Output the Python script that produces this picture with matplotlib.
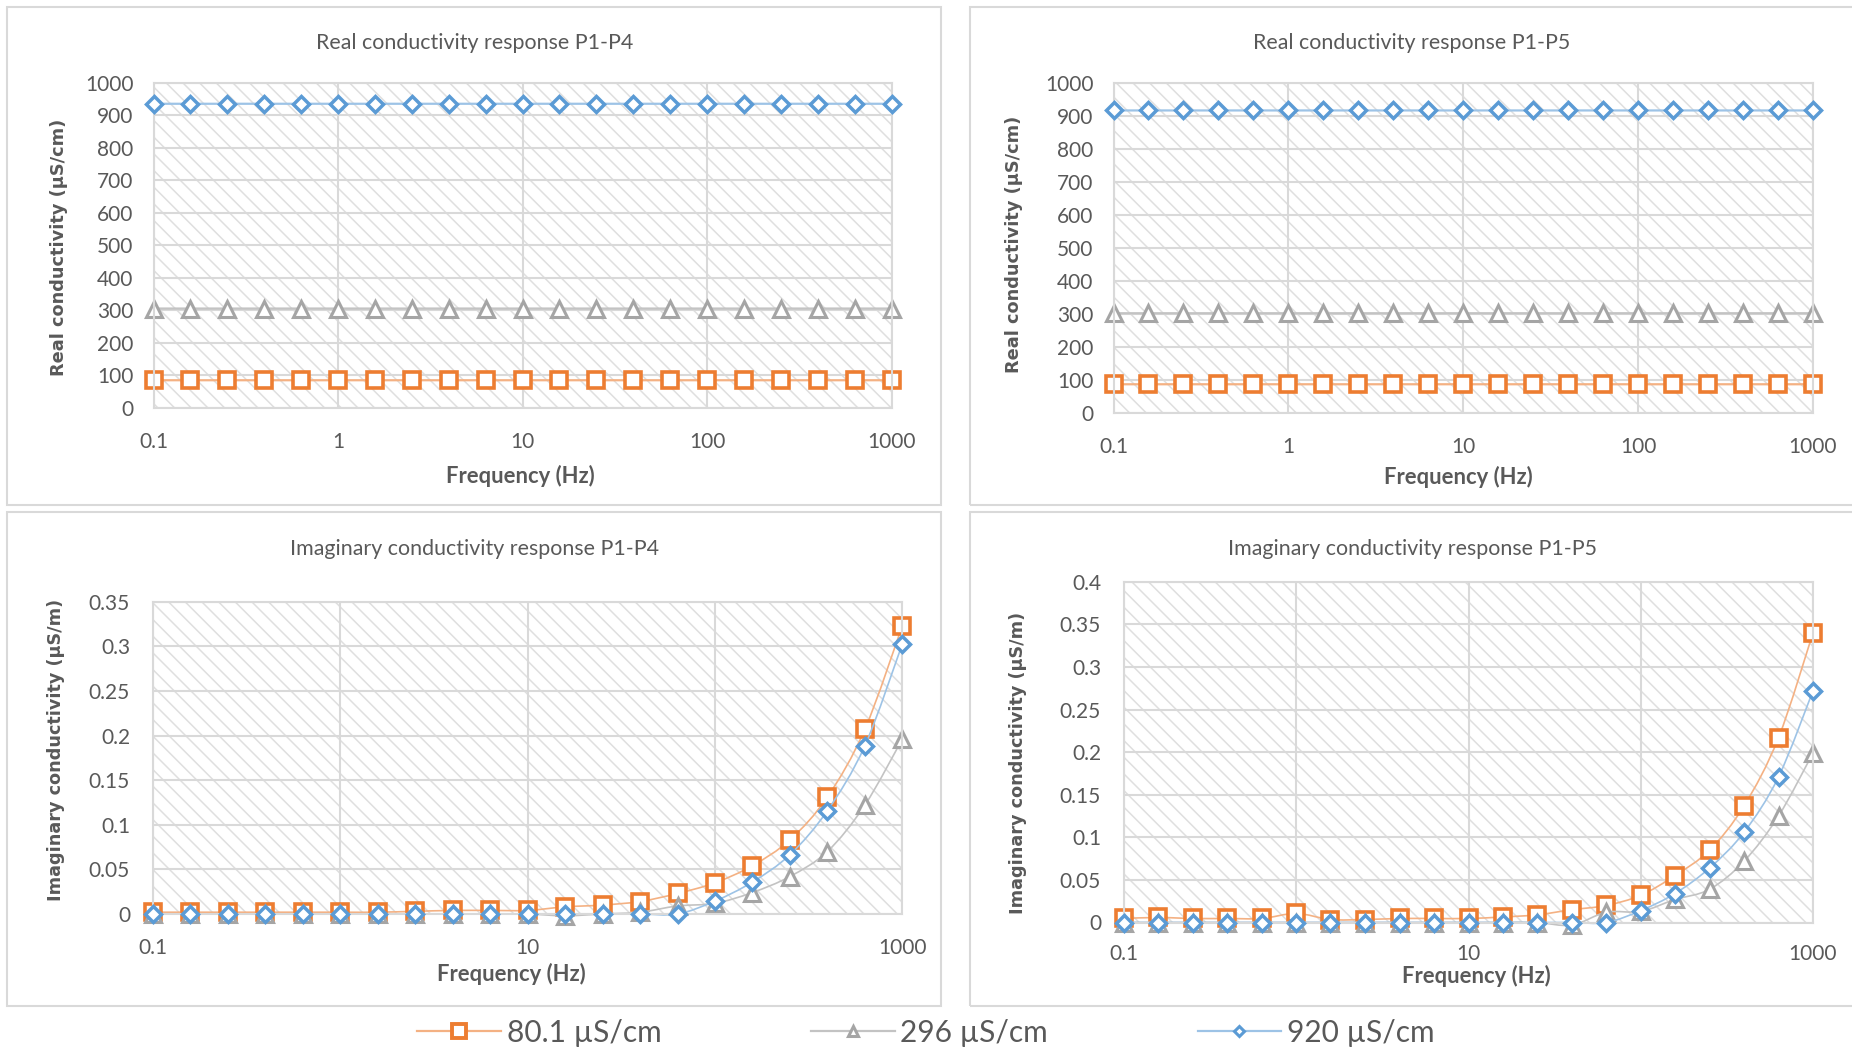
import numpy as np
import matplotlib
matplotlib.use("Agg")
import matplotlib.pyplot as plt
from matplotlib.path import Path
from matplotlib.patches import PathPatch, Rectangle
from matplotlib.lines import Line2D
from matplotlib.ticker import FixedLocator, FixedFormatter, NullLocator

# ---------------------------------------------------------------- data
freq_hz = [0.1, 0.158, 0.251, 0.398, 0.631, 1, 1.58, 2.51, 3.98, 6.31,
           10, 15.8, 25.1, 39.8, 63.1, 100, 158, 251, 398, 631, 1000]

series_labels = ["80.1 µS/cm", "296 µS/cm", "920 µS/cm"]

# Real conductivity (µS/cm), electrodes P1-P4
real_p14_80 = [84, 84, 84, 84, 84, 84, 84, 84, 84, 84, 84,
               84, 84, 84, 84, 84, 84, 84, 84, 84, 84]
real_p14_296 = [305, 305, 305, 305, 305, 305, 305, 305, 305, 305, 305,
                305, 305, 305, 305, 305, 305, 305, 305, 305, 305]
real_p14_920 = [936, 936, 936, 936, 936, 936, 936, 936, 936, 936, 936,
                936, 936, 936, 936, 936, 936, 936, 936, 936, 936]

# Real conductivity (µS/cm), electrodes P1-P5
real_p15_80 = [87, 87, 87, 87, 87, 87, 87, 87, 87, 87, 87,
               87, 87, 87, 87, 87, 87, 87, 87, 87, 87]
real_p15_296 = [302, 302, 302, 302, 302, 302, 302, 302, 302, 302, 302,
                302, 302, 302, 302, 302, 302, 302, 302, 302, 302]
real_p15_920 = [916, 916, 916, 916, 916, 916, 916, 916, 916, 916, 916,
                916, 916, 916, 916, 916, 916, 916, 916, 916, 916]

# Imaginary conductivity (µS/m), electrodes P1-P4
imag_p14_80 = [0.002, 0.002, 0.002, 0.002, 0.002, 0.002, 0.002, 0.003,
               0.004, 0.004, 0.004, 0.008, 0.010, 0.014, 0.023, 0.035,
               0.054, 0.083, 0.131, 0.207, 0.323]
imag_p14_296 = [0.0, 0.0, 0.0, 0.0, 0.0, 0.0, 0.0, 0.0, 0.0, 0.0, 0.0,
                -0.002, 0.0, 0.002, 0.009, 0.012, 0.024, 0.042, 0.070,
                0.122, 0.196]
imag_p14_920 = [0.0, 0.0, 0.0, 0.0, 0.0, 0.0, 0.0, 0.0, 0.0, 0.0, 0.0,
                0.0, 0.0, 0.0, 0.0, 0.0145, 0.0357, 0.0664, 0.1158,
                0.1885, 0.3026]

# Imaginary conductivity (µS/m), electrodes P1-P5
imag_p15_80 = [0.0047, 0.0059, 0.0047, 0.0047, 0.0047, 0.0106, 0.0035,
               0.0035, 0.0047, 0.0047, 0.0047, 0.0065, 0.009, 0.015,
               0.020, 0.032, 0.055, 0.085, 0.137, 0.217, 0.340]
imag_p15_296 = [0.0, 0.0, 0.0, 0.0, 0.0, 0.0, 0.0, 0.0, 0.0, 0.0, 0.0,
                0.0, 0.0, -0.003, 0.012, 0.013, 0.027, 0.039, 0.072,
                0.125, 0.199]
imag_p15_920 = [0.0, 0.0, 0.0, 0.0, 0.0, 0.0, 0.0, 0.0, 0.0, 0.0, 0.0,
                0.0, 0.0, 0.0, 0.0, 0.014, 0.034, 0.064, 0.106, 0.171,
                0.272]

real_yticks = [0, 100, 200, 300, 400, 500, 600, 700, 800, 900, 1000]
imag_p14_yticks = [0, 0.05, 0.1, 0.15, 0.2, 0.25, 0.3, 0.35]
imag_p15_yticks = [0, 0.05, 0.1, 0.15, 0.2, 0.25, 0.3, 0.35, 0.4]
real_xticks = [0.1, 1, 10, 100, 1000]
imag_xticks = [0.1, 10, 1000]
decade_lines = [0.1, 1, 10, 100, 1000]

# ---------------------------------------------------------------- style
plt.rcParams['font.family'] = ['Lato', 'DejaVu Sans']
TXT = '#595959'
GRID = '#d9d9d9'
HATCH = '#dfdfdf'
plt.rcParams['hatch.linewidth'] = 1.1
plt.rcParams['hatch.color'] = HATCH

series_style = [
    dict(marker='s', ms=11, mew=2.6, mec='#ED7D31', line='#F4B183'),
    dict(marker='^', ms=11.5, mew=2.2, mec='#A5A5A5', line='#C3C3C3'),
    dict(marker='D', ms=8.3, mew=2.5, mec='#5B9BD5', line='#9DC3E6'),
]

W, H = 1852, 1054
fig = plt.figure(figsize=(W / 100, H / 100), dpi=100)
fig.patch.set_facecolor('white')


def px_axes(left, top, right, bottom):
    return fig.add_axes([left / W, 1 - bottom / H,
                         (right - left) / W, (bottom - top) / H])


def fig_text(x, y, s, **kw):
    fig.text(x / W, 1 - y / H, s, color=TXT, ha='center', va='center', **kw)


def smooth_path(x, y):
    """Bezier path through the points, smoothed in log-frequency space."""
    pts = np.column_stack([np.log10(x), np.asarray(y, float)])
    n = len(pts)
    verts = [pts[0]]
    codes = [Path.MOVETO]
    for i in range(n - 1):
        p0 = pts[max(i - 1, 0)]
        p1 = pts[i]
        p2 = pts[i + 1]
        p3 = pts[min(i + 2, n - 1)]
        verts += [p1 + (p2 - p0) / 6, p2 - (p3 - p1) / 6, p2]
        codes += [Path.CURVE4] * 3
    verts = np.array(verts)
    verts[:, 0] = 10 ** verts[:, 0]
    return Path(verts, codes)


def setup_axes(ax, ylim, yticks, xticks, xpad, ypad):
    ax.set_xscale('log')
    ax.set_xlim(0.1, 1000)
    ax.set_ylim(*ylim)
    ax.set_facecolor('white')
    ax.add_patch(Rectangle((0, 0), 1, 1, transform=ax.transAxes,
                           facecolor='white', edgecolor=HATCH, lw=0,
                           hatch='\\\\', zorder=0.2))
    ax.set_axisbelow(True)
    ax.xaxis.set_major_locator(FixedLocator(decade_lines))
    ax.xaxis.set_major_formatter(FixedFormatter(
        [f"{v:g}" if v in xticks else "" for v in decade_lines]))
    ax.xaxis.set_minor_locator(NullLocator())
    ax.yaxis.set_major_locator(FixedLocator(yticks))
    ax.yaxis.set_major_formatter(FixedFormatter([f"{v:g}" for v in yticks]))
    ax.grid(True, color=GRID, lw=1.5)
    ax.tick_params(length=0, labelsize=15, labelcolor=TXT)
    ax.tick_params(axis='x', pad=xpad)
    ax.tick_params(axis='y', pad=ypad)
    for sp in ax.spines.values():
        sp.set_color(GRID)
        sp.set_linewidth(1.5)


def draw_series(ax, ys, line_w):
    z = 2.0
    for y, st in zip(ys, series_style):
        ax.add_patch(PathPatch(smooth_path(freq_hz, y), fill=False,
                               edgecolor=st['line'], lw=line_w, zorder=z,
                               clip_on=False))
        ax.plot(freq_hz, y, ls='none', marker=st['marker'], ms=st['ms'],
                mew=st['mew'], mec=st['mec'], mfc='white', zorder=z + 0.1,
                clip_on=False)
        z += 0.2


# panel frames
for (l, t, r, b) in [(7, 7, 941, 505), (970, 7, 1860, 505),
                     (7, 512, 941, 1006), (970, 512, 1860, 1006)]:
    fig.add_artist(Rectangle((l / W, 1 - b / H), (r - l) / W, (b - t) / H,
                             transform=fig.transFigure, fill=False,
                             edgecolor=GRID, lw=1.5))

# ---------------------------------------------------------------- panels
ax1 = px_axes(153.5, 83, 891.7, 407.5)
setup_axes(ax1, (0, 1000), real_yticks, real_xticks, 17.5, 14.5)
draw_series(ax1, [real_p14_80, real_p14_296, real_p14_920], 1.6)

ax2 = px_axes(1113.6, 82.7, 1813, 413)
setup_axes(ax2, (0, 1000), real_yticks, real_xticks, 17.5, 14.5)
draw_series(ax2, [real_p15_80, real_p15_296, real_p15_920], 1.6)

ax3 = px_axes(153, 601.7, 902.3, 914)
setup_axes(ax3, (0, 0.35), imag_p14_yticks, imag_xticks, 17, 16.5)
draw_series(ax3, [imag_p14_80, imag_p14_296, imag_p14_920], 1.2)

ax4 = px_axes(1124, 581.7, 1813, 922.5)
setup_axes(ax4, (0, 0.4), imag_p15_yticks, imag_xticks, 15.5, 16.5)
draw_series(ax4, [imag_p15_80, imag_p15_296, imag_p15_920], 1.2)

# titles
fig_text(474.5, 43, "Real conductivity response P1-P4", fontsize=15.4)
fig_text(1412, 43, "Real conductivity response P1-P5", fontsize=15.4)
fig_text(474.5, 549, "Imaginary conductivity response P1-P4", fontsize=15.4)
fig_text(1412, 549, "Imaginary conductivity response P1-P5", fontsize=15.4)

# axis titles
for (x, y) in [(520, 476), (1458, 477), (511, 974), (1476, 976)]:
    fig_text(x, y, "Frequency (Hz)", fontsize=15.8, fontweight='bold')
ylab_font = dict(family='DejaVu Sans', fontweight='bold', rotation=90)
fig_text(59, 247, "Real conductivity (µS/cm)", fontsize=12.8, **ylab_font)
fig_text(1014, 244, "Real conductivity (µS/cm)", fontsize=12.8, **ylab_font)
fig_text(56, 750, "Imaginary conductivity (µS/m)", fontsize=12.7, **ylab_font)
fig_text(1018, 763, "Imaginary conductivity (µS/m)", fontsize=12.7, **ylab_font)

# legend
handles = [Line2D([], [], color=st['line'], lw=1.6, marker=st['marker'],
                  ms=m, mew=mw, mec=st['mec'], mfc='white')
           for st, m, mw in zip(series_style, [10, 7, 5.5], [2.8, 2.2, 2.2])]
fig.legend(handles, series_labels, loc='center', bbox_to_anchor=(0.5, 0.02),
           ncol=3, frameon=False, fontsize=21.5, handlelength=2.8,
           handletextpad=0.2, columnspacing=5.0, labelcolor=TXT)

fig.savefig("out.png", dpi=100, facecolor='white')
